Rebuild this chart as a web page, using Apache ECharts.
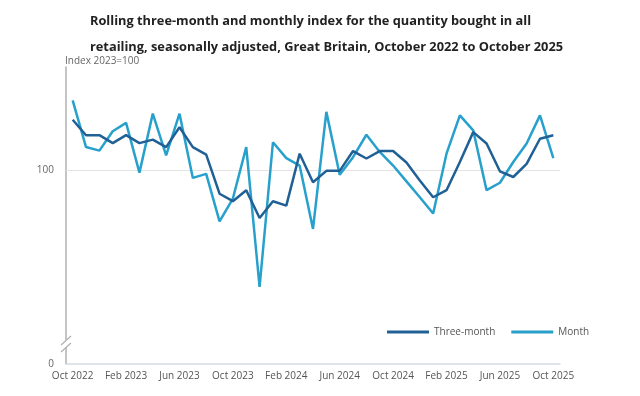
<!DOCTYPE html>
<html>
<head>
<meta charset="utf-8">
<script src="https://cdn.jsdelivr.net/npm/echarts@6/dist/echarts.min.js"></script>
<style>
  html, body { margin: 0; padding: 0; background: #fff; }
  #chart { width: 640px; height: 396px; }
</style>
</head>
<body>
<div id="chart"></div>
<script>
// months Oct 2022 .. Oct 2025
var months = ['Oct 2022','Nov 2022','Dec 2022','Jan 2023','Feb 2023','Mar 2023','Apr 2023','May 2023','Jun 2023',
  'Jul 2023','Aug 2023','Sep 2023','Oct 2023','Nov 2023','Dec 2023','Jan 2024','Feb 2024','Mar 2024','Apr 2024',
  'May 2024','Jun 2024','Jul 2024','Aug 2024','Sep 2024','Oct 2024','Nov 2024','Dec 2024','Jan 2025','Feb 2025',
  'Mar 2025','Apr 2025','May 2025','Jun 2025','Jul 2025','Aug 2025','Sep 2025','Oct 2025'];

var threeMonth = [101.15, 100.80, 100.80, 100.62, 100.80, 100.62, 100.70, 100.53, 100.98,
  100.53, 100.36, 99.47, 99.30, 99.55, 98.92, 99.30, 99.20, 100.38, 99.73,
  99.99, 99.99, 100.44, 100.27, 100.44, 100.44, 100.18, 99.77, 99.39, 99.55,
  100.19, 100.87, 100.61, 99.98, 99.85, 100.15, 100.72, 100.80];

var monthly = [101.59, 100.53, 100.45, 100.89, 101.08, 99.95, 101.29, 100.34, 101.29,
  99.83, 99.92, 98.84, 99.36, 100.53, 97.35, 100.64, 100.28, 100.11, 98.67,
  101.33, 99.90, 100.30, 100.81, 100.42, 100.11, 99.75, 99.39, 99.02, 100.38,
  101.25, 100.91, 99.55, 99.72, 100.19, 100.61, 101.25, 100.28];

var yMin = 95.6, yMax = 102.35;   // axis is broken, bottom is labelled 0

var chart = echarts.init(document.getElementById('chart'));

var option = {
    animation: false,
    title: {
        text: 'Rolling three-month and monthly index for the quantity bought in all\nretailing, seasonally adjusted, Great Britain, October 2022 to October 2025',
        left: 85,
        top: 3,
        textStyle: {
            fontFamily: 'Open Sans',
            fontWeight: 'bold',
            fontSize: 12.8,
            lineHeight: 26,
            color: '#222'
        }
    },
    legend: {
        left: 382,
        top: 322,
        itemWidth: 42,
        itemHeight: 3,
        itemGap: 16,
        icon: 'rect',
        textStyle: { fontFamily: 'Open Sans', fontSize: 10, color: '#555' },
        data: ['Three-month', 'Month']
    },
    grid: { left: 66, right: 80, top: 67, bottom: 32 },
    xAxis: {
        type: 'category',
        data: months,
        boundaryGap: true,
        axisLine: { lineStyle: { color: '#d3dbe6', width: 1.5 } },
        axisTick: { alignWithLabel: true, interval: 3, length: 5, lineStyle: { color: '#d3dbe6' } },
        axisLabel: {
            interval: 3,
            margin: 7,
            fontFamily: 'Open Sans',
            fontSize: 10,
            color: '#555'
        }
    },
    yAxis: {
        type: 'value',
        min: yMin,
        max: yMax,
        interval: 0.2,
        name: 'Index 2023=100',
        nameLocation: 'end',
        nameGap: 1,
        nameTextStyle: { fontFamily: 'Open Sans', fontSize: 10, color: '#666', align: 'left', padding: [0, 0, 0, -1] },
        axisLine: { show: true, lineStyle: { color: '#b0b0b0', width: 1.5 } },
        axisTick: { show: false },
        splitLine: { show: false },
        axisLabel: {
            fontFamily: 'Open Sans',
            fontSize: 10,
            color: '#666',
            margin: 12,
            formatter: function (v) {
                if (Math.abs(v - 100) < 0.01) return '100';
                if (v < yMin + 0.05) return '0';
                return '';
            }
        }
    },
    graphic: [
        { type: 'rect', shape: { x: 62, y: 340, width: 8, height: 7 }, style: { fill: '#fff' }, z: 100 },
        { type: 'line', shape: { x1: 61, y1: 345, x2: 71, y2: 336 }, style: { stroke: '#b0b0b0', lineWidth: 1.2 }, z: 101 },
        { type: 'line', shape: { x1: 61, y1: 352, x2: 71, y2: 343 }, style: { stroke: '#b0b0b0', lineWidth: 1.2 }, z: 101 }
    ],
    series: [
        {
            name: 'Three-month',
            type: 'line',
            data: threeMonth,
            symbol: 'none',
            z: 3,
            lineStyle: { color: '#206095', width: 2.5 },
            itemStyle: { color: '#206095' },
            markLine: {
                silent: true,
                symbol: 'none',
                label: { show: false },
                lineStyle: { color: '#e3e3e3', type: 'solid', width: 1 },
                data: [{ yAxis: 100 }],
                z: 1
            }
        },
        {
            name: 'Month',
            type: 'line',
            data: monthly,
            symbol: 'none',
            z: 2,
            lineStyle: { color: '#27a0cc', width: 2.5 },
            itemStyle: { color: '#27a0cc' }
        }
    ]
};

chart.setOption(option);
</script>
</body>
</html>
